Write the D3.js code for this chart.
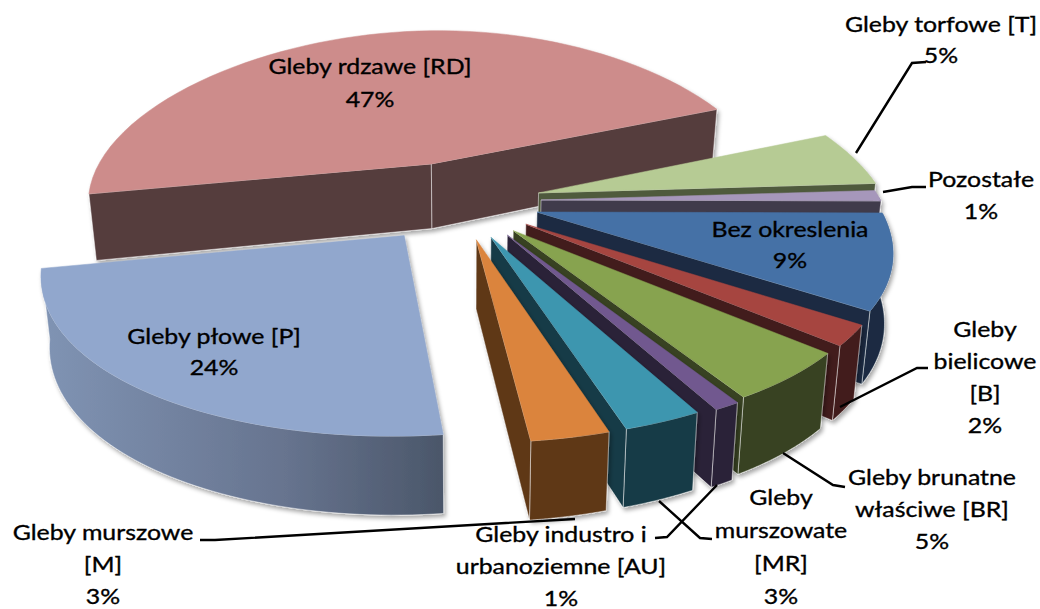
<!DOCTYPE html>
<html>
<head>
<meta charset="utf-8">
<script src="https://d3js.org/d3.v7.min.js"></script>
<style>
html, body { margin: 0; padding: 0; background: #fff; }
svg { display: block; }
text { font-family: Lato, "Open Sans", sans-serif; font-size: 22px; fill: #000; stroke: #000; stroke-width: 0.35px; text-anchor: middle; dominant-baseline: middle; }
</style>
</head>
<body>
<svg width="1040" height="609"></svg>
<script>
// values, in the order they go round the pie (clockwise, back slice first)
var names = ["Gleby rdzawe [RD]", "Gleby torfowe [T]", "Pozostałe", "Bez okreslenia", "Gleby bielicowe [B]",
    "Gleby brunatne właściwe [BR]", "Gleby industro i urbanoziemne [AU]", "Gleby murszowate [MR]", "Gleby murszowe [M]", "Gleby płowe [P]"];
var values = [47, 5, 1, 9, 2, 5, 1, 3, 3, 24];

var topColors = ["#cd8c8b", "#b6cb94", "#a697bb", "#4571a6", "#a64541", "#87a34f", "#71588f", "#3e96af", "#db843d", "#91a7cd"];
var wallColors = ["#553c3d", "#4f5a3e", "#413b4c", "#1a2c43", "#431c1b", "#374221", "#2c2339", "#183b46", "#5f3919", "url(#wallP)"];

// how the slices are pulled out of the pie
var explode = [0.24, 0.23, 0.23, 0.23, 0.23, 0.23, 0.23, 0.23, 0.23, 0.25];
var nudge = [-11, 0, 0, -2, -2, -3, 3, -4, -4, -6];
var grow = [1.03, 1.02, 1, 1, 1, 1, 1, 1, 1, 0.995];

// label lines: name lines, then the percent comes from values
var labelLines = [["Gleby rdzawe [RD]"], ["Gleby torfowe [T]"], ["Pozostałe"], ["Bez okreslenia"], ["Gleby", "bielicowe", "[B]"],
    ["Gleby brunatne", "właściwe [BR]"], ["Gleby industro i", "urbanoziemne [AU]"], ["Gleby", "murszowate", "[MR]"], ["Gleby murszowe", "[M]"], ["Gleby płowe [P]"]];
var labelX = [370, 941, 981, 790, 985, 932, 561, 781, 103, 214];
var labelY = [68, 26, 181, 231, 331, 479, 536, 499, 534, 338];
var labelStep = [33, 31, 32, 31, 32, 32, 32, 33, 32, 31];

var leaders = [
    [[856, 153], [912, 63], [926, 62]],
    [[883, 192], [912, 187], [926, 187]],
    [[840, 407], [917, 368], [928, 368]],
    [[783, 453], [833, 485], [845, 487]],
    [[717, 485], [667, 537], [655, 538]],
    [[659, 501], [700, 538], [712, 539]],
    [[575, 519], [215, 540], [200, 540]]
];

var svg = d3.select("svg");

// projection of the tilted pie plane
var cx = 463, cy = 201, f = 340, tilt = 0.49, perspX = 0.22, perspY = 0.15, depth = 67, lean = 0.02;

function upper(u, v) {
    return [cx + f * u * (1 + perspX * v), cy + f * tilt * v * (1 + perspY * v)];
}

function lower(u, v) {
    return [cx + f * u * (1 + perspX * v) * (1 - lean), cy + f * tilt * v * (1 + perspY * v) + depth * (1 + perspY * v)];
}

var defs = svg.append("defs");

var grad = defs.append("linearGradient").attr("id", "wallP")
    .attr("gradientUnits", "userSpaceOnUse")
    .attr("x1", 40).attr("x2", 446).attr("y1", 0).attr("y2", 0);
grad.append("stop").attr("offset", "0%").attr("stop-color", "#8094b4");
grad.append("stop").attr("offset", "60%").attr("stop-color", "#67748f");
grad.append("stop").attr("offset", "100%").attr("stop-color", "#4a5669");

var shadow = defs.append("filter").attr("id", "shadow")
    .attr("x", "-5%").attr("y", "-5%").attr("width", "110%").attr("height", "115%");
shadow.append("feDropShadow").attr("dx", 2).attr("dy", 3).attr("stdDeviation", 2)
    .attr("flood-color", "#000").attr("flood-opacity", 0.35);

var line = d3.line();

var pie = d3.pie().sort(null)
    .startAngle(259.5 * Math.PI / 180)
    .endAngle((259.5 + 360) * Math.PI / 180);

var slices = pie(values);

slices.forEach(function(d, i) {
    var mid = (d.startAngle + d.endAngle) / 2;
    var u0 = explode[i] * Math.sin(mid) + nudge[i] / f;
    var v0 = -explode[i] * Math.cos(mid);
    var r = grow[i];

    var steps = d3.range(0, 61).map(function(k) {
        return d.startAngle + (d.endAngle - d.startAngle) * k / 60;
    });
    var rim = steps.map(function(a) {
        return [u0 + r * Math.sin(a), v0 - r * Math.cos(a), a];
    });

    var g = svg.append("g").attr("filter", "url(#shadow)");
    var wallFill = wallColors[i];

    function wall(pts) {
        g.append("path")
            .attr("d", line(pts) + "Z")
            .attr("fill", wallFill)
            .attr("stroke", "#fff")
            .attr("stroke-opacity", 0.6)
            .attr("stroke-width", 0.8);
    }

    // start edge, front part of the rim, end edge
    var first = rim[0], last = rim[rim.length - 1];
    var startWall = [upper(u0, v0), upper(first[0], first[1]), lower(first[0], first[1]), lower(u0, v0)];
    var endWall = [upper(u0, v0), upper(last[0], last[1]), lower(last[0], last[1]), lower(u0, v0)];

    // d3.polygonArea is positive when the start edge faces the viewer
    var startSeen = d3.polygonArea(startWall) > 0;
    if (startSeen) wall(startWall);

    var front = rim.filter(function(p) { return Math.cos(p[2]) < 0.02; });
    if (front.length > 1 && !startSeen) {
        var tops = front.map(function(p) { return upper(p[0], p[1]); });
        var bots = front.map(function(p) { return lower(p[0], p[1]); }).reverse();
        wall(tops.concat(bots));
    }

    if (d3.polygonArea(endWall) < 0) wall(endWall);

    var face = [upper(u0, v0)].concat(rim.map(function(p) { return upper(p[0], p[1]); }));
    g.append("path")
        .attr("d", line(face) + "Z")
        .attr("fill", topColors[i])
        .attr("stroke", topColors[i])
        .attr("stroke-width", 0.5);
});

// leader lines
svg.selectAll(".leader")
    .data(leaders)
    .enter().append("path")
    .attr("class", "leader")
    .attr("d", function(d) { return line(d); })
    .attr("fill", "none")
    .attr("stroke", "#000")
    .attr("stroke-width", 2.4);

// labels, stretched a little sideways like the source picture
var label = svg.selectAll(".label")
    .data(labelLines)
    .enter().append("g")
    .attr("class", "label");

label.each(function(d, i) {
    var lines = d.concat([values[i] + "%"]);
    d3.select(this).selectAll("text")
        .data(lines)
        .enter().append("text")
        .attr("transform", function(t, k) {
            return "translate(" + labelX[i] + "," + (labelY[i] + k * labelStep[i]) + ") scale(1.13,1)";
        })
        .text(function(t) { return t; });
});
</script>
</body>
</html>
